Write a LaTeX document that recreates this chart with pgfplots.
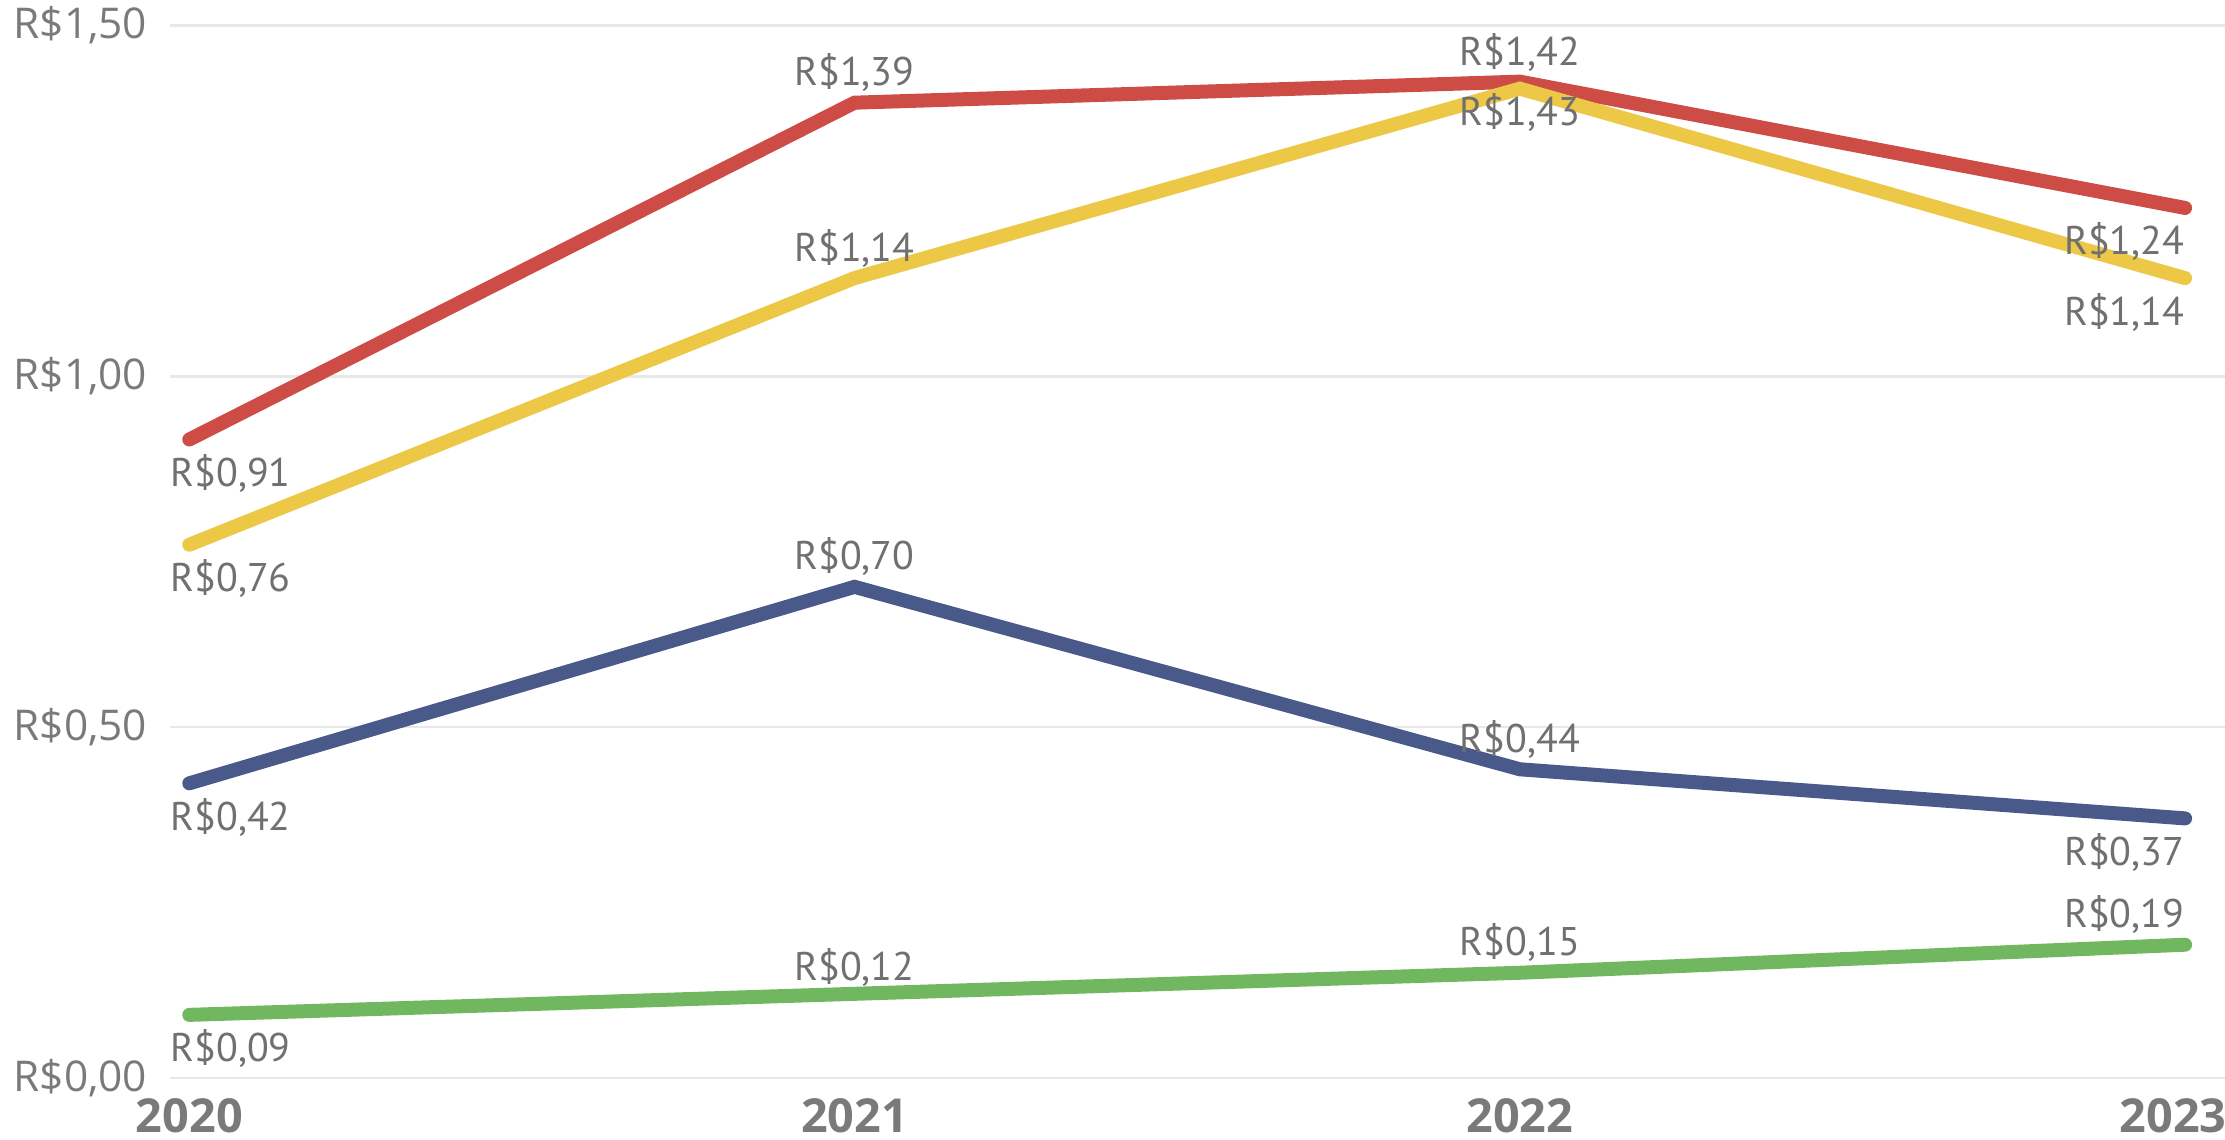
\documentclass[border=0pt]{standalone}
\usepackage{pgfplots}
\pgfplotsset{compat=1.18}
\usepackage{fontspec}
\setmainfont{Open Sans}
\newfontfamily\labfont{PT Sans}
\definecolor{cred}{HTML}{CD4C46}
\definecolor{cyel}{HTML}{ECC846}
\definecolor{cblu}{HTML}{48598A}
\definecolor{cgrn}{HTML}{70B760}
\definecolor{ctick}{HTML}{7A7A7A}
\definecolor{clab}{HTML}{707070}
\definecolor{cgrid}{HTML}{E8E8E8}
\begin{document}
\begin{tikzpicture}
\begin{axis}[
  at={(0,0)}, anchor=south west,
  scale only axis,
  width=513.75pt, height=263.125pt,
  xmin=2019.971, xmax=2023.06,
  ymin=0, ymax=1.5,
  clip=false,
  axis line style={draw=none},
  major tick length=0pt,
  ymajorgrids, grid style={cgrid, line width=0.6pt},
  xtick={2020,2021,2022,2023},
  xticklabels={2020,2021,2022,{\hspace*{-6pt}2023}},
  ytick={0,0.5,1,1.5},
  yticklabels={{R\$0,00},{R\$0,50},{R\$1,00},{R\$1,50}},
  yticklabel style={font=\fontsize{10.6}{13}\selectfont, text=ctick, anchor=east, inner sep=0pt, xshift=-5.5pt},
  xticklabel style={font=\fontsize{11.7}{13}\selectfont\bfseries, text=ctick, anchor=north, inner sep=0pt, yshift=-5pt},
  every axis plot/.append style={line width=3.5pt, line cap=round, line join=miter, mark=none},
]
\addplot[cred] coordinates {(2020,0.91) (2021,1.39) (2022,1.42) (2023,1.24)};
\addplot[cyel] coordinates {(2020,0.76) (2021,1.14) (2022,1.41) (2023,1.14)};
\addplot[cblu] coordinates {(2020,0.42) (2021,0.70) (2022,0.44) (2023,0.37)};
\addplot[cgrn] coordinates {(2020,0.09) (2021,0.12) (2022,0.15) (2023,0.19)};

\tikzset{lab/.style={font=\labfont\fontsize{10}{12}\selectfont, text=clab, inner sep=0pt}}
% 2020 (below, left-aligned at axis left)
\node[lab, anchor=west, yshift=-8.5pt] at (axis cs:2019.971,0.91) {R\$0,91};
\node[lab, anchor=west, yshift=-8.5pt] at (axis cs:2019.971,0.76) {R\$0,76};
\node[lab, anchor=west, yshift=-8.5pt] at (axis cs:2019.971,0.42) {R\$0,42};
\node[lab, anchor=west, yshift=-8.5pt] at (axis cs:2019.971,0.09) {R\$0,09};
% 2021 (above)
\node[lab, yshift=7.5pt] at (axis cs:2021,1.39) {R\$1,39};
\node[lab, yshift=7.5pt] at (axis cs:2021,1.14) {R\$1,14};
\node[lab, yshift=7.5pt] at (axis cs:2021,0.70) {R\$0,70};
\node[lab, yshift=6.5pt] at (axis cs:2021,0.12) {R\$0,12};
% 2022
\node[lab, yshift=5.5pt] at (axis cs:2022,1.43) {R\$1,42};
\node[lab, yshift=-6pt] at (axis cs:2022,1.41) {R\$1,43};
\node[lab, yshift=7.5pt] at (axis cs:2022,0.44) {R\$0,44};
\node[lab, yshift=7.5pt] at (axis cs:2022,0.15) {R\$0,15};
% 2023
\node[lab, anchor=east, yshift=-8.5pt] at (axis cs:2023,1.24) {R\$1,24};
\node[lab, anchor=east, yshift=-8.5pt] at (axis cs:2023,1.14) {R\$1,14};
\node[lab, anchor=east, yshift=-8.5pt] at (axis cs:2023,0.37) {R\$0,37};
\node[lab, anchor=east, yshift=7.5pt] at (axis cs:2023,0.19) {R\$0,19};
\end{axis}
\pgfresetboundingbox
\path (-42.5pt,-15.25pt) rectangle (513.75pt,269.5pt);
\end{tikzpicture}
\end{document}
